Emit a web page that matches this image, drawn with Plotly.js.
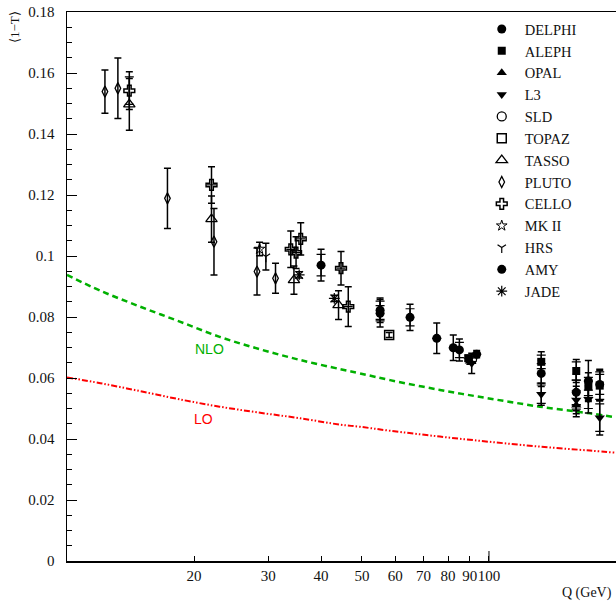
<!DOCTYPE html>
<html>
<head>
<meta charset="utf-8">
<script src="https://cdn.plot.ly/plotly-3.0.1.min.js"></script>
<style>html,body{margin:0;padding:0;background:#fff;}#plot{width:616px;height:602px;}</style>
</head>
<body>
<div id="plot"></div>
<script>
// ---- theory curves ----
const curveQ   = [10, 12, 14.9, 18.5, 23, 28.7, 35.7, 44.4, 49.5, 58.3, 76.5, 100, 132, 173.5, 200];
const nloVals  = [0.0938, 0.0886, 0.0834, 0.0785, 0.0735, 0.0694, 0.0659, 0.0629, 0.0615, 0.0593, 0.0561, 0.0533, 0.0506, 0.0484, 0.0471];
const loVals   = [0.0602, 0.0583, 0.0557, 0.0530, 0.0506, 0.0486, 0.0468, 0.0447, 0.0440, 0.0427, 0.0408, 0.0391, 0.0375, 0.0362, 0.0355];

// ---- experiments ----
const expNames = ["DELPHI","ALEPH","OPAL","L3","SLD","TOPAZ","TASSO","PLUTO","CELLO","MK II","HRS","AMY","JADE"];

const delphiQ   = [40.0, 55.2, 65.0, 75.2, 82.3, 85.1, 93.5, 133, 161, 172, 183];
const delphiV   = [0.0970, 0.0822, 0.0799, 0.0730, 0.0699, 0.0692, 0.0678, 0.0615, 0.0553, 0.0590, 0.0579];
const delphiE   = [0.0052, 0.0040, 0.0043, 0.0050, 0.0042, 0.0036, 0.0012, 0.0043, 0.0060, 0.0067, 0.0050];
const delphiEi  = [0.0035, 0.0030, 0.0028, null, null, 0.0025, null, 0.0032, 0.0040, null, 0.0033];

const alephQ    = [89.3, 133, 161, 172, 183];
const alephV    = [0.0665, 0.0653, 0.0623, 0.0572, 0.0575];
const alephE    = [0.0010, 0.0033, 0.0038, 0.0045, 0.0050];
const alephEi   = [null, 0.0022, 0.0030, 0.0030, 0.0045];

const opalQ     = [90.1, 161];
const opalV     = [0.0655, 0.0511];
const opalE     = [0.0010, 0.0038];
const opalEi    = [null, null];

const l3Q       = [91.0, 133, 161, 172, 183];
const l3V       = [0.0648, 0.0547, 0.0528, 0.0530, 0.0470];
const l3E       = [0.0033, 0.0036, 0.0045, 0.0045, 0.0057];
const l3Ei      = [null, 0.0030, 0.0030, 0.0030, 0.0045];

const sldQ      = [91.2];
const sldV      = [0.0662];
const sldE      = [0.0010];

const topazQ    = [58.0];
const topazV    = [0.0741];
const topazE    = [0.0008];

const tassoQ    = [14.05, 22.0, 34.5, 44.0];
const tassoV    = [0.1497, 0.1121, 0.0921, 0.0839];
const tassoE    = [0.0085, 0.0076, 0.0046, 0.0047];

const plutoQ    = [12.3, 13.2, 17.3, 22.3, 28.2, 31.2];
const plutoV    = [0.1539, 0.1550, 0.1189, 0.1047, 0.0949, 0.0927];
const plutoE    = [0.0071, 0.0099, 0.0099, 0.0109, 0.0077, 0.0049];

const celloQ    = [14.05, 22.0, 33.9, 34.9, 35.8, 44.6, 46.4];
const celloV    = [0.1542, 0.1233, 0.1022, 0.1011, 0.1056, 0.0960, 0.0834];
const celloE    = [0.0062, 0.0060, 0.0060, 0.0052, 0.0053, 0.0055, 0.0065];
const celloEi   = [0.0045, null, null, null, null, null, null];

const mk2Q      = [28.6];
const mk2V      = [0.1023];
const mk2E      = [0.0022];

const hrsQ      = [29.6];
const hrsV      = [0.0998];
const hrsE      = [0.0044];

const amyQ      = [55.2];
const amyV      = [0.0812];
const amyE      = [0.0045];
const amyEi     = [0.0025];

const jadeQ     = [35.5, 43.0];
const jadeV     = [0.0938, 0.0861];
const jadeE     = [0.0010, 0.0010];

// x-axis tick labels
const xTickVals = [20, 30, 40, 50, 60, 70, 80, 90, 100];
const xTickText = ["20", "30", "40", "50", "60", "70", "80", "90", "100"];

// ---- build ----
const serif = "'Liberation Serif', 'Times New Roman', serif";
const traces = [];

traces.push({x: curveQ, y: nloVals, type: "scatter", mode: "lines", showlegend: false, hoverinfo: "skip",
  line: {color: "#00b000", width: 2.5, dash: "6px,4px", shape: "spline"}});
traces.push({x: curveQ, y: loVals, type: "scatter", mode: "lines", showlegend: false, hoverinfo: "skip",
  line: {color: "#ff0000", width: 2, dash: "6px,2px,1.5px,2px,1.5px,2px", shape: "spline"}});

const markerStyles = {
  "DELPHI": {symbol: "circle", size: 9, color: "#000"},
  "ALEPH":  {symbol: "square", size: 8, color: "#000"},
  "OPAL":   {symbol: "triangle-up", size: 9, color: "#000"},
  "L3":     {symbol: "triangle-down", size: 9, color: "#000"},
  "SLD":    {symbol: "circle-open", size: 9, color: "#000", line: {width: 1.3, color: "#000"}},
  "TOPAZ":  {symbol: "square-open", size: 9, color: "#000", line: {width: 1.5, color: "#000"}},
  "TASSO":  {symbol: "triangle-up-open", size: 10, color: "#000", line: {width: 1.3, color: "#000"}},
  "PLUTO":  {symbol: "diamond-tall-open", size: 8, color: "#000", line: {width: 1.3, color: "#000"}},
  "CELLO":  {symbol: "cross-open", size: 9, color: "#000", line: {width: 1.5, color: "#000"}},
  "MK II":  {symbol: "star-open", size: 8, color: "#000", line: {width: 1, color: "#000"}},
  "HRS":    {symbol: "y-down-open", size: 7, color: "#000", line: {width: 1.2, color: "#000"}},
  "AMY":    {symbol: "circle", size: 9, color: "#000"},
  "JADE":   {symbol: "asterisk-open", size: 9, color: "#000", line: {width: 1.2, color: "#000"}}
};

const expData = {
  "DELPHI": [delphiQ, delphiV, delphiE, delphiEi],
  "ALEPH":  [alephQ, alephV, alephE, alephEi],
  "OPAL":   [opalQ, opalV, opalE, opalEi],
  "L3":     [l3Q, l3V, l3E, l3Ei],
  "SLD":    [sldQ, sldV, sldE, null],
  "TOPAZ":  [topazQ, topazV, topazE, null],
  "TASSO":  [tassoQ, tassoV, tassoE, null],
  "PLUTO":  [plutoQ, plutoV, plutoE, null],
  "CELLO":  [celloQ, celloV, celloE, celloEi],
  "MK II":  [mk2Q, mk2V, mk2E, null],
  "HRS":    [hrsQ, hrsV, hrsE, null],
  "AMY":    [amyQ, amyV, amyE, amyEi],
  "JADE":   [jadeQ, jadeV, jadeE, null]
};

// inner (statistical) ticks first, so markers sit on top
expNames.forEach(n => {
  const d = expData[n];
  if (d[3]) {
    traces.push({x: d[0], y: d[1], type: "scatter", mode: "markers", showlegend: false, hoverinfo: "skip",
      marker: {size: 1, color: "rgba(0,0,0,0)"},
      error_y: {type: "data", array: d[3], visible: true, color: "#000", thickness: 1.2, width: 4.5}});
  }
});

expNames.forEach((n, i) => {
  const d = expData[n];
  traces.push({x: d[0], y: d[1], type: "scatter", mode: "markers", name: n,
    marker: markerStyles[n],
    error_y: {type: "data", array: d[2], visible: true, color: "#000", thickness: 1.5, width: 3.5}});
});

const layout = {
  width: 616, height: 602,
  margin: {l: 67, r: 0, t: 12, b: 41, pad: 0},
  paper_bgcolor: "#fff", plot_bgcolor: "#fff",
  font: {family: serif, size: 15, color: "#111"},
  showlegend: true,
  legend: {x: 0.750, y: 0.998, xanchor: "left", yanchor: "top", bgcolor: "rgba(0,0,0,0)",
    borderwidth: 0, itemwidth: 36, traceorder: "normal",
    font: {family: serif, size: 14.5, color: "#111"}},
  xaxis: {type: "log", range: [1, 2.301], showgrid: false, zeroline: false,
    showline: true, linecolor: "#000", linewidth: 1.5, mirror: true,
    ticks: "inside", ticklen: 5, tickwidth: 1, tickcolor: "#000", tickangle: 0,
    tickmode: "array", tickvals: xTickVals, ticktext: xTickText,
    tickfont: {family: serif, size: 15, color: "#111"}},
  yaxis: {range: [0, 0.18], showgrid: false, zeroline: false,
    showline: true, linecolor: "#000", linewidth: 1.5, mirror: false,
    ticks: "inside", ticklen: 10, tickwidth: 1, tickcolor: "#000",
    dtick: 0.02, tick0: 0, ticklabelstandoff: 8,
    minor: {dtick: 0.005, ticklen: 5, tickwidth: 1, tickcolor: "#000", ticks: "inside", showgrid: false},
    tickfont: {family: serif, size: 15, color: "#111"}},
  shapes: [
    {type: "line", xref: "x", yref: "paper", x0: 100, x1: 100, y0: 0, y1: 10/549, line: {color: "#000", width: 1}}
  ],
  annotations: [
    {text: "\u27E81\u2212T\u27E9", xref: "paper", yref: "paper", x: -0.0947, y: 0.9727, textangle: -90,
     showarrow: false, xanchor: "center", yanchor: "middle", font: {family: serif, size: 13, color: "#111"}},
    {text: "Q (GeV)", xref: "paper", yref: "paper", x: 0.9964, y: -0.0583, showarrow: false,
     xanchor: "right", yanchor: "middle", font: {family: serif, size: 14, color: "#111"}},
    {text: "NLO", xref: "paper", yref: "paper", x: 0.2596, y: 0.3856, showarrow: false,
     xanchor: "center", yanchor: "middle", font: {family: "'Liberation Sans', Arial, sans-serif", size: 14, color: "#00b000"}},
    {text: "LO", xref: "paper", yref: "paper", x: 0.2495, y: 0.2581, showarrow: false,
     xanchor: "center", yanchor: "middle", font: {family: "'Liberation Sans', Arial, sans-serif", size: 14, color: "#ff0000"}}
  ]
};

Plotly.newPlot("plot", traces, layout, {staticPlot: true, displayModeBar: false});
</script>
</body>
</html>
